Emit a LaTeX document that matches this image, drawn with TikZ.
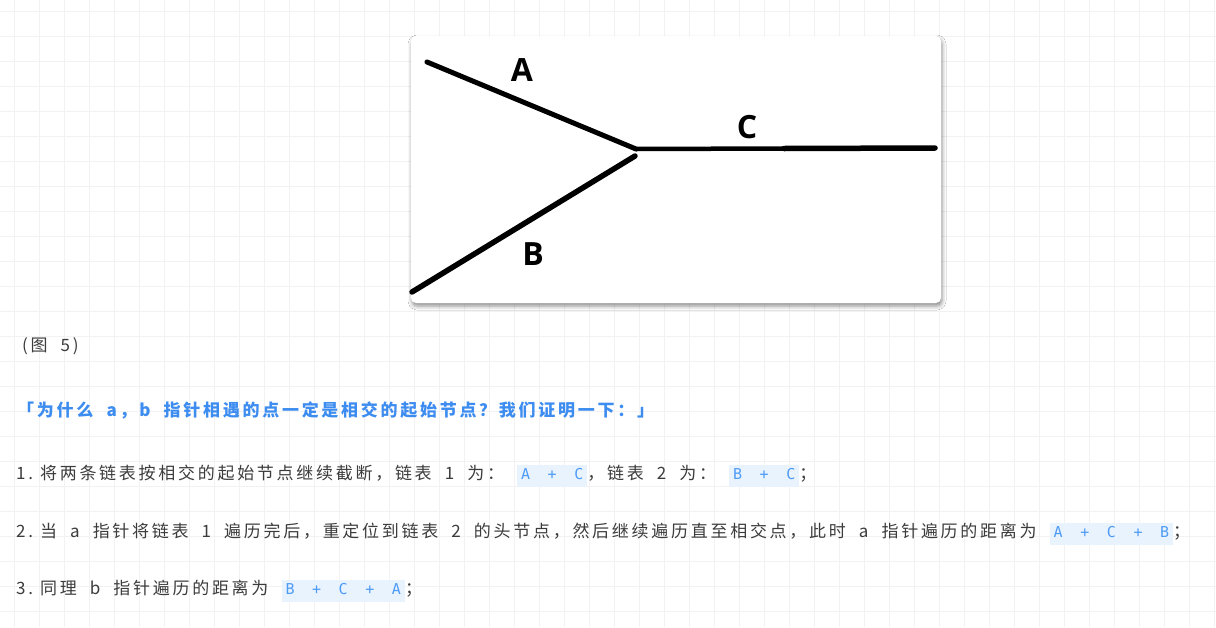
\documentclass[tikz,border=0pt]{standalone}
\usepackage{fontspec}
\setmainfont{Open Sans}
\newfontfamily\cjk[LetterSpace=16, WordSpace=2]{Noto Sans CJK SC}
\newfontfamily\codefont[LetterSpace=30, WordSpace=1.3]{DejaVu Sans Mono}
\usetikzlibrary{shadows.blur}
\definecolor{gridline}{HTML}{F2F2F2}
\definecolor{bodytext}{HTML}{3C3C3C}
\definecolor{titleblue}{HTML}{3D8CF0}
\definecolor{codeblue}{HTML}{4E9BF5}
\definecolor{codebg}{HTML}{E8F3FE}
\newcommand{\codespan}[1]{{\setlength{\fboxsep}{4pt}\colorbox{codebg}{\codefont\fontsize{15}{18}\selectfont\color{codeblue}\vphantom{Ag}#1}}}
\newcommand{\itemgap}{\hspace{7pt}}
\tikzset{
    edge/.style={line width=5pt, line cap=round},
    seglabel/.style={font=\fontsize{32}{32}\selectfont\bfseries, inner sep=0pt},
    textline/.style={anchor=west, font=\cjk\fontsize{17}{20}\selectfont, text=bodytext, inner sep=0pt}}

\begin{document}
\begin{tikzpicture}[x=1pt, y=-1pt]
        \useasboundingbox (0,0) rectangle (1216,627);
        \fill[white] (0,0) rectangle (1216,627);
        \foreach \gx in {14,39,...,1214} \draw[gridline, line width=1pt] (\gx,0) -- (\gx,627);
        \foreach \gy in {11,36,...,626} \draw[gridline, line width=1pt] (0,\gy) -- (1216,\gy);

        \fill[white, rounded corners=5pt, blur shadow={shadow xshift=1pt, shadow yshift=-3pt, shadow blur radius=4pt, shadow opacity=45}] (411,36) rectangle (941,303);

        \coordinate (a0) at (427,62);
        \coordinate (j) at (636,149);
        \coordinate (b0) at (412,292);
        \coordinate (bj) at (635,156);
        \coordinate (cm) at (784,148.5);
        \coordinate (c1) at (935,148);

        \draw[edge] (a0) -- (j);
        \draw[edge, line width=5.5pt] (b0) -- (bj);
        \draw[edge, line width=4.5pt] (j) -- (cm);
        \draw[edge, line width=5.5pt] (cm) -- (c1);

        \node[seglabel] (la) at (522,70) {A};
        \node[seglabel] (lc) at (747,127) {C};
        \node[seglabel] (lb) at (533,254) {B};

        \node[textline] (fig) at (22,346) {(图 5)};
        \node[textline, font=\cjk\fontsize{17}{20}\selectfont\bfseries, text=titleblue] (title) at (17,410) {「为什么 a，b 指针相遇的点一定是相交的起始节点？我们证明一下：」};
        \node[textline] (s1) at (16,476) {1.\itemgap 将两条链表按相交的起始节点继续截断，链表 1 为： \codespan{A + C}，链表 2 为： \codespan{B + C}；};
        \node[textline] (s2) at (16,534) {2.\itemgap 当 a 指针将链表 1 遍历完后，重定位到链表 2 的头节点，然后继续遍历直至相交点，此时 a 指针遍历的距离为 \codespan{A + C + B}；};
        \node[textline] (s3) at (16,591) {3.\itemgap 同理 b 指针遍历的距离为 \codespan{B + C + A}；};

\end{tikzpicture}
\end{document}
